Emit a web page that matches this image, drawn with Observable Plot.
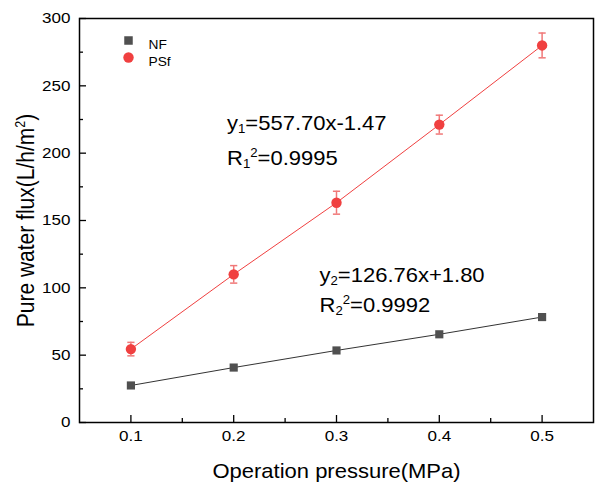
<!DOCTYPE html>
<html><head><meta charset="utf-8">
<script src="https://cdn.jsdelivr.net/npm/d3@7"></script>
<script src="https://cdn.jsdelivr.net/npm/@observablehq/plot@0.6"></script>
<style>body{margin:0;background:#fff} svg{font-family:"Liberation Sans",Arial,sans-serif}</style>
</head><body><div id="chart"></div>
<script>
// ---- data ----
const pressure = [0.1, 0.2, 0.3, 0.4, 0.5];
const nfFlux = [27.5, 40.8, 53.5, 65.5, 78.3];
const psfFlux = [54.5, 110, 163.2, 221.2, 280];
const psfErr = [5, 6.5, 8.5, 7, 9.2];
const seriesNames = ["NF", "PSf"];
const yTicks = [0, 50, 100, 150, 200, 250, 300];
const yMinor = [25, 75, 125, 175, 225, 275];
const xTicks = [0.1, 0.2, 0.3, 0.4, 0.5];
const xMinor = [0.15, 0.25, 0.35, 0.45];
const fitTexts = ["y_{1}=557.70x-1.47", "R_{1}^{2}=0.9995", "y_{2}=126.76x+1.80", "R_{2}^{2}=0.9992"];
const xTitle = "Operation pressure(MPa)";
const yTitle = "Pure water flux(L/h/m^{2})";

const nfData = pressure.map((p, i) => ({p, f: nfFlux[i]}));
const psfData = pressure.map((p, i) => ({p, f: psfFlux[i], lo: psfFlux[i] - psfErr[i], hi: psfFlux[i] + psfErr[i]}));

const RED = "#f04040", GRAY = "#505050";
const cap = {draw(ctx, size) { const w = Math.sqrt(size / Math.PI); ctx.moveTo(-w, 0); ctx.lineTo(w, 0); }};
const textPos = [[147.5, 111], [147.5, 146], [240, 263], [240, 293]];

const chart = Plot.plot({
  width: 595, height: 483,
  marginLeft: 79, marginRight: 2, marginTop: 18, marginBottom: 61,
  x: {domain: [0.05, 0.55]},
  y: {domain: [0, 300]},
  style: {fontFamily: "Liberation Sans, Arial, sans-serif", color: "#000", background: "#fff"},
  marks: [
    Plot.axisY({ticks: yTicks, tickSize: 0, tickPadding: 9, fontSize: 15.5, label: null}),
    Plot.axisY({ticks: yTicks, tickSize: -7, tickFormat: () => "", label: null, strokeWidth: 1.3}),
    Plot.axisY({ticks: yMinor, tickSize: -4, tickFormat: () => "", label: null, strokeWidth: 1.3}),
    Plot.axisX({ticks: xTicks, tickSize: 0, tickPadding: 7, fontSize: 15.5, label: null, tickFormat: d3.format(".1f")}),
    Plot.axisX({ticks: xTicks, tickSize: -7, tickFormat: () => "", label: null, strokeWidth: 1.3}),
    Plot.axisX({ticks: xMinor, tickSize: -4, tickFormat: () => "", label: null, strokeWidth: 1.3}),
    Plot.frame({stroke: "#000", strokeWidth: 1.5}),
    Plot.line(nfData, {x: "p", y: "f", stroke: "#333", strokeWidth: 1}),
    Plot.line(psfData, {x: "p", y: "f", stroke: RED, strokeWidth: 1}),
    Plot.ruleX(psfData, {x: "p", y1: "lo", y2: "hi", stroke: "#f07878", strokeWidth: 1.5}),
    Plot.dot(psfData, {x: "p", y: "lo", symbol: cap, r: 3.6, stroke: "#f07878", strokeWidth: 1.5, fill: "none"}),
    Plot.dot(psfData, {x: "p", y: "hi", symbol: cap, r: 3.6, stroke: "#f07878", strokeWidth: 1.5, fill: "none"}),
    Plot.dot(nfData, {x: "p", y: "f", symbol: "square", r: 4.6, fill: GRAY}),
    Plot.dot(psfData, {x: "p", y: "f", r: 5.2, fill: RED}),
    // legend
    Plot.dot([seriesNames[0]], {frameAnchor: "top-left", dx: 49, dy: 22, symbol: "square", r: 4.8, fill: GRAY}),
    Plot.dot([seriesNames[1]], {frameAnchor: "top-left", dx: 49, dy: 39, r: 5.2, fill: RED}),
    Plot.text([seriesNames[0]], {frameAnchor: "top-left", dx: 69, dy: 22, text: d => d, textAnchor: "start", fontSize: 12.5}),
    Plot.text([seriesNames[1]], {frameAnchor: "top-left", dx: 69, dy: 39, text: d => d, textAnchor: "start", fontSize: 12.5}),
    // fit annotations
    ...fitTexts.map((t, i) => Plot.text([t], {frameAnchor: "top-left", dx: textPos[i][0], dy: textPos[i][1], text: d => d, textAnchor: "start", lineAnchor: "bottom", fontSize: 20, className: "rich"})),
    // titles
    Plot.text([xTitle], {frameAnchor: "bottom", dy: 55, text: d => d, fontSize: 20, lineAnchor: "bottom"}),
    Plot.text([yTitle], {frameAnchor: "left", dx: -53, text: d => d, fontSize: 21, rotate: -90, textAnchor: "middle", className: "rich"})
  ]
});

// convert _{..} and ^{..} markup into tspans
function rich(el) {
  const s = el.textContent;
  if (!/[_^]\{/.test(s)) return;
  const fs = parseFloat(el.getAttribute("font-size") || el.closest("[font-size]")?.getAttribute("font-size")) || 20;
  const parts = [];
  const re = /([_^])\{([^}]*)\}|([^_^]+)/g;
  let m;
  while ((m = re.exec(s))) {
    if (m[3]) parts.push({t: m[3], off: 0, small: false});
    else parts.push({t: m[2], off: m[1] === "_" ? 0.15 * fs : -0.4 * fs, small: true});
  }
  el.textContent = "";
  let cur = 0;
  for (const p of parts) {
    const ts = document.createElementNS("http://www.w3.org/2000/svg", "tspan");
    ts.textContent = p.t;
    const d = p.off - cur;
    if (d) ts.setAttribute("dy", d);
    if (p.small) ts.setAttribute("font-size", fs * 0.6);
    cur = p.off;
    el.appendChild(ts);
  }
}
chart.querySelectorAll(".rich text").forEach(rich);

// the reference's lettering is slightly wide: stretch glyphs horizontally about their anchor
const SX = 1.1;
chart.querySelectorAll("text").forEach(el => {
  let t = el.getAttribute("transform");
  if (!t) {
    const x = el.getAttribute("x") || 0, y = el.getAttribute("y") || 0;
    el.removeAttribute("x"); el.removeAttribute("y");
    t = `translate(${x},${y})`;
  }
  el.setAttribute("transform", t + (/rotate/.test(t) ? ` scale(1,${SX})` : ` scale(${SX},1)`));
});
document.getElementById("chart").appendChild(chart);
</script>
</body></html>
